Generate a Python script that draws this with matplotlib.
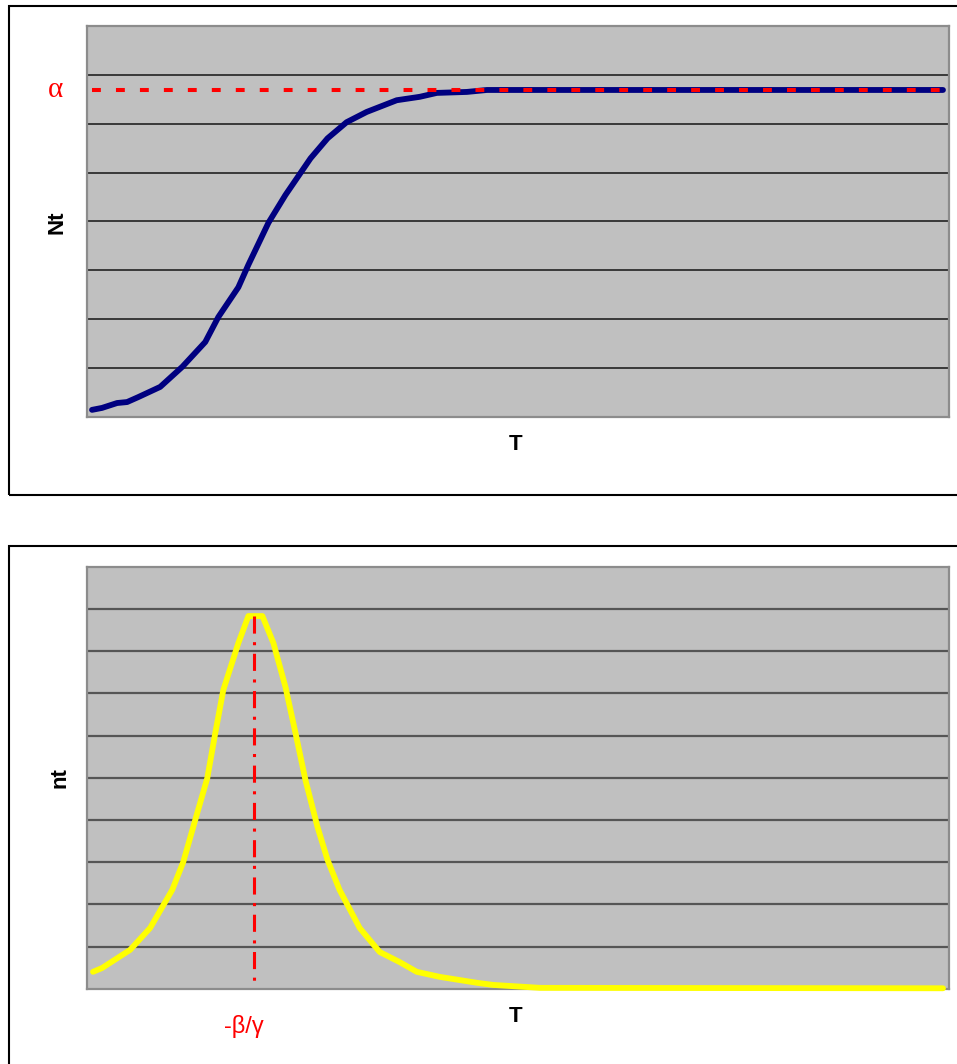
import matplotlib.pyplot as plt
from matplotlib.patches import Rectangle

# top panel: logistic curve Nt and its ceiling alpha
t_top = [0.5, 1.5, 3.0, 4.0, 5.1, 7.3, 9.5, 11.8, 13.1, 15.1, 16.1, 18.1, 19.8,
         22.3, 24.0, 25.9, 27.9, 30.9, 33.2, 34.9, 37.9, 39.9, 85.4]
Nt = [0.14, 0.18, 0.28, 0.30, 0.40, 0.61, 1.02, 1.53, 2.04, 2.65, 3.11, 3.97, 4.54,
      5.29, 5.70, 6.03, 6.24, 6.48, 6.55, 6.63, 6.65, 6.69, 6.69]
alpha = 6.69

# bottom panel: growth rate nt, peak at -beta/gamma
t_bot = [0.6, 1.5, 4.3, 6.3, 8.5, 9.6, 10.8, 12.0, 12.8, 13.6, 15.1, 16.1, 17.5,
         18.6, 19.8, 20.8, 21.8, 23.0, 24.0, 25.2, 27.2, 29.2, 31.2, 32.9, 35.2,
         38.9, 40.5, 45.2, 85.4]
nt = [0.40, 0.49, 0.92, 1.44, 2.34, 3.00, 4.00, 4.99, 6.06, 7.08, 8.19, 8.83, 8.83,
      8.19, 7.15, 6.06, 4.94, 3.83, 3.05, 2.34, 1.44, 0.87, 0.63, 0.40, 0.28,
      0.14, 0.09, 0.02, 0.01]
t_peak = 16.7
nt_peak = 8.83

W, H = 957, 1064
fig = plt.figure(figsize=(W / 100, H / 100), dpi=100)

def fx(px):
    return px / W

def fy(py):
    return 1 - py / H

# outer chart boxes
fig.patches.append(Rectangle((fx(9), fy(495)), fx(960 - 9), (495 - 6) / H,
                             transform=fig.transFigure, fill=False, ec='black', lw=1.5))
fig.patches.append(Rectangle((fx(9), -0.01), fx(960 - 9), fy(546) + 0.01,
                             transform=fig.transFigure, fill=False, ec='black', lw=1.5))

ax1 = fig.add_axes([fx(87), fy(416.7), fx(949 - 87), (416.7 - 26) / H])
ax2 = fig.add_axes([fx(87), fy(988.7), fx(949 - 87), (988.7 - 566.7) / H])

for ax, top, gcol, glw in [(ax1, 8, '#141414', 1.1), (ax2, 10, '#555555', 1.6)]:
    ax.set_facecolor('#c0c0c0')
    ax.set_xlim(0, 86)
    ax.set_ylim(0, top)
    ax.set_xticks([])
    ax.set_yticks([])
    for s in ax.spines.values():
        s.set_color('#8c8c8c')
        s.set_linewidth(1.6)
    for g in range(1, top):
        ax.axhline(g, color=gcol, lw=glw, zorder=1)

# top curve
ax1.plot(t_top, Nt, color='#000080', lw=4.2, solid_capstyle='round',
         solid_joinstyle='round', zorder=3)
ax1.plot([t_top[0], t_top[-1]], [alpha, alpha], color='red', lw=2.9,
         dashes=(2.2, 3.75), zorder=4)
ax1.text(-0.036, alpha, 'α', transform=ax1.get_yaxis_transform(), color='red',
         fontsize=21, family='Liberation Serif', ha='center', va='center')

# bottom curve
ax2.plot(t_bot, nt, color='#ffff00', lw=4.2, solid_capstyle='round',
         solid_joinstyle='round', zorder=3, clip_on=False)
ax2.plot([t_peak, t_peak], [nt_peak, 0], color='red', lw=2.2,
         dashes=(5.6, 2.8, 1.0, 2.8), zorder=4)
ax2.text(t_peak - 1.0, -0.09, '-β/γ', transform=ax2.get_xaxis_transform(),
         color='red', fontsize=17, family='Liberation Sans', ha='center', va='center')

# axis labels
lab = dict(fontsize=16, fontweight='bold', family='Liberation Sans',
           ha='center', va='center')
fig.text(fx(516), fy(445), 'T', **lab)
fig.text(fx(516), fy(1017), 'T', **lab)
fig.text(fx(57), fy(222), 'Nt', rotation=90, **lab)
fig.text(fx(60), fy(778), 'nt', rotation=90, **lab)

fig.savefig('out.png', dpi=100)
